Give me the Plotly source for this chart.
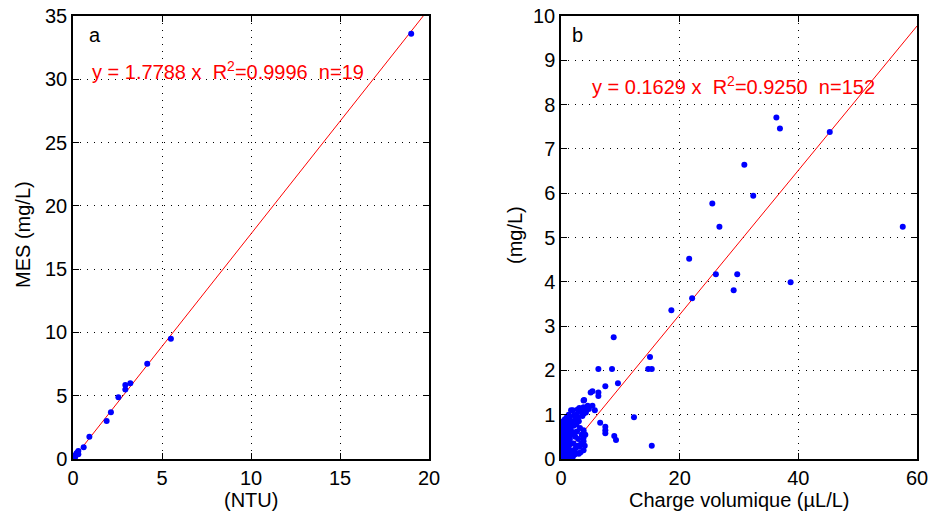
import plotly.graph_objects as go

# ---- panel a data ----
ntu = [19.0, 5.5, 4.17, 3.22, 2.94, 2.94, 2.55, 2.13, 1.89, 0.92, 0.6, 0.3, 0.3, 0.15, 0.1, 0.05, 0.2, 0.12, 0.25]
mes = [33.6, 9.5, 7.53, 5.98, 5.85, 5.5, 4.87, 3.69, 3.0, 1.76, 0.92, 0.63, 0.37, 0.32, 0.2, 0.1, 0.45, 0.15, 0.5]
slope_a = 1.7788
label_a = "y = 1.7788 x  R<sup>2</sup>=0.9996  n=19"

# ---- panel b data ----
charge = [
    36.3, 36.9, 45.3, 30.9, 32.4, 25.5, 26.7, 57.6, 21.6, 26.1, 29.7, 29.1, 38.7, 22.1, 18.6,
    8.88, 6.3, 8.6, 14.7, 15.3, 15.0, 9.6, 7.47, 6.3, 6.3, 5.3, 5.0, 3.8, 5.3, 4.7, 5.7, 12.3,
    6.6, 7.47, 7.47, 7.47, 8.98, 9.27, 15.3,
    0.1, 0.2, 0.3, 0.15, 0.3, 0.5, 0.6, 0.4, 0.2, 0.1, 0.3, 0.5, 0.7, 0.8, 0.9, 1.0, 1.1, 1.2, 1.0, 0.8,
    0.6, 0.4, 0.2, 0.5, 0.9, 1.2, 1.4, 1.3, 1.4, 0.7, 0.4, 1.1, 0.25, 0.55, 0.75, 0.95, 1.25, 0.35, 0.15, 0.65,
    1.5, 1.5, 0.05, 0.05, 0.1, 0.45, 0.85, 1.05, 1.35, 0.3, 0.6, 0.2, 0.12, 0.9, 1.6, 1.7, 1.8, 1.65, 1.9, 1.75,
    2.0, 2.3, 2.6, 3.0, 3.3, 3.8, 3.1, 2.8, 2.5, 2.2, 3.8, 3.8, 3.8, 3.8, 3.5, 3.2, 2.9, 2.1, 2.4, 2.0,
    2.7, 3.4, 4.0, 2.1, 2.6,
    1.7, 2.2, 2.6, 2.9, 3.1, 3.3, 3.5, 3.6, 3.8, 3.8, 3.8, 4.2, 4.3, 2.8, 3.9, 1.8, 2.4, 1.5, 1.3, 1.0,
    1.2, 2.0, 3.0, 4.5,
    0.05, 0.0, 2.3, 4.1,
]
conc = [
    7.71, 7.46, 7.38, 6.64, 5.94, 5.77, 5.24, 5.24, 4.52, 4.17, 4.17, 3.81, 3.99, 3.63, 3.36,
    2.75, 2.03, 2.03, 2.03, 2.03, 2.3, 1.71, 1.64, 1.5, 1.42, 1.53, 1.5, 1.32, 1.2, 1.13, 1.1, 0.94,
    0.82, 0.73, 0.65, 0.58, 0.52, 0.43, 0.3,
    0.05, 0.1, 0.15, 0.25, 0.3, 0.2, 0.35, 0.4, 0.45, 0.5, 0.55, 0.5, 0.45, 0.3, 0.2, 0.1, 0.25, 0.4, 0.5, 0.6,
    0.65, 0.7, 0.62, 0.78, 0.72, 0.65, 0.55, 0.3, 0.15, 0.05, 0.02, 0.02, 0.35, 0.42, 0.15, 0.38, 0.12, 0.85, 0.75, 0.9,
    0.45, 0.7, 0.3, 0.4, 0.2, 0.6, 0.5, 0.62, 0.8, 0.48, 0.28, 0.55, 0.65, 0.05, 0.2, 0.35, 0.55, 0.65, 0.1, 0.05,
    0.05, 0.1, 0.13, 0.12, 0.15, 0.2, 0.28, 0.3, 0.25, 0.2, 0.4, 0.48, 0.6, 0.65, 0.55, 0.7, 0.45, 0.35, 0.5, 0.6,
    0.62, 0.35, 0.3, 0.75, 0.78,
    1.1, 0.99, 1.0, 0.95, 1.15, 1.07, 1.1, 0.97, 1.17, 1.07, 1.02, 1.05, 1.15, 1.12, 1.33, 0.85, 0.88, 0.95, 1.0, 0.95,
    0.85, 1.1, 0.85, 1.2,
    0.6, 0.7, 0.6, 0.55,
]
slope_b = 0.1629
label_b = "y = 0.1629 x  R<sup>2</sup>=0.9250  n=152"

xa_ticks = [0, 5, 10, 15, 20]
ya_ticks = [0, 5, 10, 15, 20, 25, 30, 35]
xb_ticks = [0, 20, 40, 60]
yb_ticks = [0, 1, 2, 3, 4, 5, 6, 7, 8, 9, 10]

xa_title = "(NTU)"
ya_title = "MES (mg/L)"
xb_title = "Charge volumique (µL/L)"
yb_title = "(mg/L)"

FONT = "Liberation Sans, Arial, Helvetica, sans-serif"
FS = 20

fig = go.Figure()

fig.add_trace(go.Scatter(x=[0, 20], y=[0, slope_a * 20], mode="lines",
                         line=dict(color="red", width=1), xaxis="x", yaxis="y", showlegend=False))
fig.add_trace(go.Scatter(x=ntu, y=mes, mode="markers",
                         marker=dict(color="blue", size=6), xaxis="x", yaxis="y", showlegend=False))
fig.add_trace(go.Scatter(x=[0, 60], y=[0, slope_b * 60], mode="lines",
                         line=dict(color="red", width=1), xaxis="x2", yaxis="y2", showlegend=False))
fig.add_trace(go.Scatter(x=charge, y=conc, mode="markers",
                         marker=dict(color="blue", size=6), xaxis="x2", yaxis="y2", showlegend=False))

axis_common = dict(
    showline=True, linecolor="black", linewidth=1.5, mirror="ticks",
    ticks="inside", ticklen=6, tickcolor="black", automargin=False,
    ticklabeloverflow="allow",
    showgrid=True, gridcolor="black", griddash="1px,6px", gridwidth=1,
    zeroline=False, tickfont=dict(size=FS, color="black", family=FONT),
)

PW, PH = 844, 443  # plot area size in px


def px_x(sx):
    return (sx - 73) / PW


def px_y(sy):
    return (459 - sy) / PH


fig.update_layout(
    width=930, height=517,
    margin=dict(l=73, r=13, t=16, b=58, autoexpand=False),
    plot_bgcolor="white", paper_bgcolor="white",
    font=dict(family=FONT, size=FS, color="black"),
    xaxis=dict(domain=[0, 0.4218], range=[0, 20], tickvals=xa_ticks, anchor="y", **axis_common),
    yaxis=dict(domain=[0, 1], range=[0, 35], tickvals=ya_ticks, anchor="x", **axis_common),
    xaxis2=dict(domain=[0.5782, 1], range=[0, 60], tickvals=xb_ticks, anchor="y2", **axis_common),
    yaxis2=dict(domain=[0, 1], range=[0, 10], tickvals=yb_ticks, anchor="x2", **axis_common),
    annotations=[
        dict(x=0.8, y=33.5, xref="x", yref="y", text="a", showarrow=False, xanchor="left",
             font=dict(size=FS, color="black")),
        dict(x=0.95, y=30.7, xref="x", yref="y", text=label_a, showarrow=False, xanchor="left",
             font=dict(size=FS, color="red")),
        dict(x=1.5, y=9.57, xref="x2", yref="y2", text="b", showarrow=False, xanchor="left",
             font=dict(size=FS, color="black")),
        dict(x=4.9, y=8.44, xref="x2", yref="y2", text=label_b, showarrow=False, xanchor="left",
             font=dict(size=FS, color="red")),
        dict(x=px_x(251), y=px_y(500), xref="paper", yref="paper", text=xa_title, showarrow=False,
             xanchor="center", yanchor="middle", font=dict(size=FS, color="black")),
        dict(x=px_x(739), y=px_y(500), xref="paper", yref="paper", text=xb_title, showarrow=False,
             xanchor="center", yanchor="middle", font=dict(size=FS, color="black")),
        dict(x=px_x(23), y=px_y(235), xref="paper", yref="paper", text=ya_title, showarrow=False,
             textangle=-90, xanchor="center", yanchor="middle", font=dict(size=FS, color="black")),
        dict(x=px_x(515), y=px_y(235), xref="paper", yref="paper", text=yb_title, showarrow=False,
             textangle=-90, xanchor="center", yanchor="middle", font=dict(size=FS, color="black")),
    ],
)

fig.write_html(
    "out.html",
    config={"displayModeBar": False},
    post_script="document.body.style.margin='0';document.body.style.overflow='hidden';",
)
